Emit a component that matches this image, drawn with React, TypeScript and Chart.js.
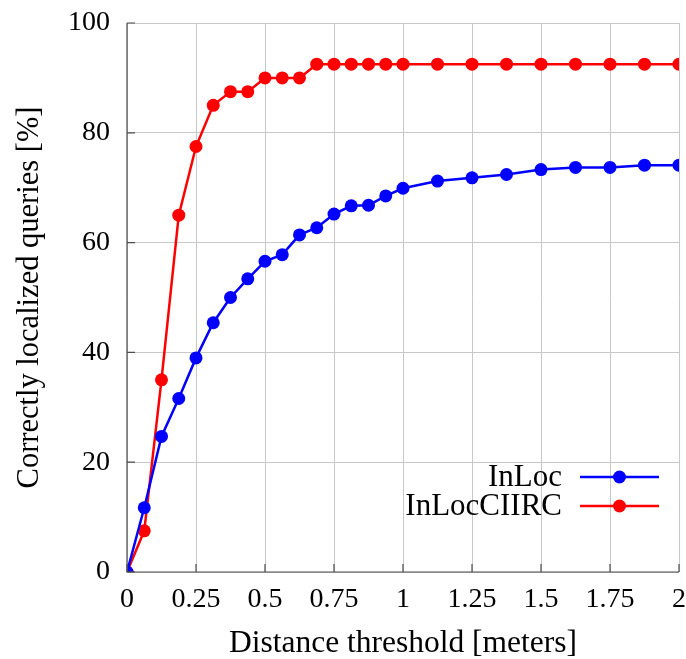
import React, { useEffect, useRef } from "react";
import { Chart, registerables } from "chart.js";

Chart.register(...registerables);

const thresholds = [0, 0.0625, 0.125, 0.1875, 0.25, 0.3125, 0.375, 0.4375, 0.5, 0.5625, 0.625, 0.6875, 0.75, 0.8125, 0.875, 0.9375, 1, 1.125, 1.25, 1.375, 1.5, 1.625, 1.75, 1.875, 2];
const inLoc = [0, 11.7, 24.7, 31.6, 39.0, 45.4, 50.0, 53.4, 56.6, 57.8, 61.4, 62.7, 65.2, 66.7, 66.8, 68.5, 69.9, 71.2, 71.8, 72.4, 73.3, 73.7, 73.7, 74.1, 74.1];
const inLocCIIRC = [0, 7.5, 35, 65, 77.5, 85, 87.5, 87.5, 90, 90, 90, 92.5, 92.5, 92.5, 92.5, 92.5, 92.5, 92.5, 92.5, 92.5, 92.5, 92.5, 92.5, 92.5, 92.5];
const seriesNames = ["InLoc", "InLocCIIRC"];
const seriesColors = ["#0000ff", "#ff0000"];
const xTicks = [0, 0.25, 0.5, 0.75, 1, 1.25, 1.5, 1.75, 2];
const yTicks = [0, 20, 40, 60, 80, 100];
const xTitle = "Distance threshold [meters]";
const yTitle = "Correctly localized queries [%]";

const FONT = "'Liberation Serif', 'DejaVu Serif', serif";

const decorPlugin = {
  id: "decor",
  afterDatasetsDraw(chart: any) {
    const { ctx, chartArea, scales } = chart;
    const xs = scales.x;
    const ys = scales.y;
    ctx.save();
    ctx.strokeStyle = "#4d4d4d";
    ctx.lineWidth = 1.2;
    ctx.beginPath();
    ctx.moveTo(chartArea.left, chartArea.top);
    ctx.lineTo(chartArea.left, chartArea.bottom);
    ctx.lineTo(chartArea.right, chartArea.bottom);
    ctx.stroke();
    ctx.beginPath();
    xTicks.forEach((v) => {
      const px = xs.getPixelForValue(v);
      ctx.moveTo(px, chartArea.bottom);
      ctx.lineTo(px, chartArea.bottom - 8);
    });
    yTicks.forEach((v) => {
      const py = ys.getPixelForValue(v);
      ctx.moveTo(chartArea.left, py);
      ctx.lineTo(chartArea.left + 8, py);
    });
    ctx.stroke();
    ctx.restore();
  },
  afterDraw(chart: any) {
    const { ctx } = chart;
    ctx.save();
    ctx.font = `31px ${FONT}`;
    ctx.textAlign = "right";
    ctx.textBaseline = "middle";
    const rows = [477, 506];
    chart.data.datasets.forEach((ds: any, i: number) => {
      const y = rows[i];
      ctx.fillStyle = "#000";
      ctx.fillText(ds.label, 562, y + 1);
      ctx.strokeStyle = ds.borderColor;
      ctx.lineWidth = 2.5;
      ctx.beginPath();
      ctx.moveTo(580, y);
      ctx.lineTo(659, y);
      ctx.stroke();
      ctx.fillStyle = ds.backgroundColor;
      ctx.beginPath();
      ctx.arc(619.5, y, 6.5, 0, Math.PI * 2);
      ctx.fill();
    });
    ctx.restore();
  },
};

export default function App() {
  const ref = useRef<HTMLCanvasElement>(null);
  useEffect(() => {
    if (!ref.current) return;
    const mk = (vals: number[], i: number) => ({
      label: seriesNames[i],
      data: thresholds.map((x, k) => ({ x, y: vals[k] })),
      borderColor: seriesColors[i],
      backgroundColor: seriesColors[i],
      borderWidth: 2.5,
      pointRadius: 6.5,
      pointHoverRadius: 6.5,
      pointBorderWidth: 0,
      tension: 0,
    });
    const chart = new Chart(ref.current, {
      type: "line",
      data: { datasets: [mk(inLoc, 0), mk(inLocCIIRC, 1)] },
      plugins: [decorPlugin],
      options: {
        responsive: false,
        animation: false,
        events: [],
        layout: { padding: { top: 23, right: 7, left: 0, bottom: 0 } },
        plugins: { legend: { display: false }, tooltip: { enabled: false } },
        scales: {
          x: {
            type: "linear",
            min: 0,
            max: 2,
            afterBuildTicks: (s: any) => {
              s.ticks = xTicks.map((v) => ({ value: v }));
            },
            afterFit: (s: any) => {
              s.height = 87;
              s.paddingLeft = 0;
              s.paddingRight = 0;
            },
            ticks: {
              padding: 11,
              color: "#000",
              font: { family: FONT, size: 28 },
              callback: (v: any) => String(v),
              maxRotation: 0,
              autoSkip: false,
            },
            grid: { color: "#c8c8c8", lineWidth: 1, drawTicks: false },
            border: { display: false },
            title: {
              display: true,
              text: xTitle,
              color: "#000",
              font: { family: FONT, size: 31.5, lineHeight: 1.0 },
              padding: { top: 0, bottom: 0 },
            },
          },
          y: {
            type: "linear",
            min: 0,
            max: 100,
            afterBuildTicks: (s: any) => {
              s.ticks = yTicks.map((v) => ({ value: v }));
            },
            afterFit: (s: any) => {
              s.width = 127;
              s.paddingTop = 0;
              s.paddingBottom = 0;
            },
            ticks: {
              padding: 17,
              color: "#000",
              font: { family: FONT, size: 28 },
              callback: (v: any) => String(v),
              autoSkip: false,
            },
            grid: { color: "#c8c8c8", lineWidth: 1, drawTicks: false },
            border: { display: false },
            title: {
              display: true,
              text: yTitle,
              color: "#000",
              font: { family: FONT, size: 30.5 },
              padding: { top: 12, bottom: 0 },
            },
          },
        },
      },
    });
    return () => chart.destroy();
  }, []);
  return (
    <div style={{ position: "fixed", left: 0, top: 0, width: 686, height: 659, background: "#fff" }}>
      <canvas ref={ref} width={686} height={659} style={{ width: 686, height: 659, display: "block" }} />
    </div>
  );
}
